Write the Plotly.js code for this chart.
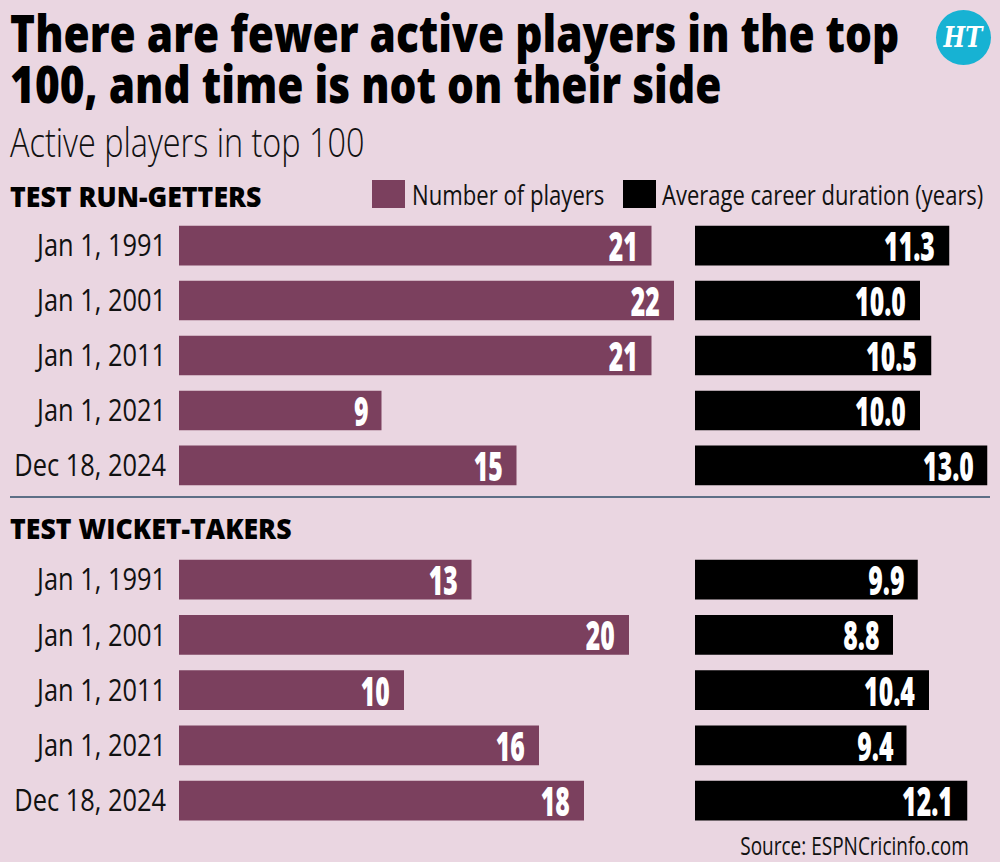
<!DOCTYPE html>
<html>
<head>
<meta charset="utf-8">
<script src="https://cdn.plot.ly/plotly-3.0.1.min.js"></script>
<style>
  html, body { margin: 0; padding: 0; background: #ead6e1; }
  #chart { width: 1000px; height: 862px; }
</style>
</head>
<body>
<div id="chart"></div>
<script>
// Snapshot dates
const dates = ["Jan 1, 1991", "Jan 1, 2001", "Jan 1, 2011", "Jan 1, 2021", "Dec 18, 2024"];

// Test run-getters: active players in top 100 and their average career length
const runPlayers = [21, 22, 21, 9, 15];
const runCareer = [11.3, 10.0, 10.5, 10.0, 13.0];

// Test wicket-takers
const wktPlayers = [13, 20, 10, 16, 18];
const wktCareer = [9.9, 8.8, 10.4, 9.4, 12.1];

const seriesNames = ["Number of players", "Average career duration (years)"];

const MAROON = "#7b405e";
const BLACK = "#000000";
const BG = "#ead6e1";
const FONT = '"Open Sans", "Noto Sans", sans-serif';
const H = 862;
const py = px => 1 - px / H;   // pixel row -> paper fraction

function barTrace(values, color, xa, ya, name) {
  return {
    type: "bar",
    orientation: "h",
    x: values,
    y: dates,
    xaxis: xa,
    yaxis: ya,
    name: name,
    marker: { color: color, line: { width: 0 } },
    hoverinfo: "x+y",
    showlegend: false
  };
}

const traces = [
  barTrace(runPlayers, MAROON, "x", "y", seriesNames[0]),
  barTrace(runCareer, BLACK, "x2", "y", seriesNames[1]),
  barTrace(wktPlayers, MAROON, "x3", "y2", seriesNames[0]),
  barTrace(wktCareer, BLACK, "x4", "y2", seriesNames[1])
];

// Each annotation carries a horizontal squeeze factor (condensed type look)
const annotations = [];
const squeeze = [];
function addAnn(ann, s) { annotations.push(ann); squeeze.push(s); }

// Value labels sit just inside the end of each bar
function addLabels(values, xref, yref, fmt) {
  values.forEach((v, i) => {
    addAnn({
      x: v, y: dates[i], xref: xref, yref: yref,
      text: fmt(v), showarrow: false,
      xanchor: "right", yanchor: "middle", xshift: -12,
      font: { family: FONT, size: 40, color: "#ffffff", weight: 800 }
    }, 0.62);
  });
}
addLabels(runPlayers, "x", "y", v => String(v));
addLabels(runCareer, "x2", "y", v => v.toFixed(1));
addLabels(wktPlayers, "x3", "y2", v => String(v));
addLabels(wktCareer, "x4", "y2", v => v.toFixed(1));

function paperText(text, x, yc, xanchor, font, s) {
  addAnn({ xref: "paper", yref: "paper", x: x, y: py(yc), xanchor: xanchor, yanchor: "middle",
           text: text, showarrow: false, font: font }, s);
}

// Headline, subtitle, section headers, legend text and source
paperText("There are fewer active players in the top", 0.008, 31.8, "left",
          { family: FONT, size: 52, color: "#000", weight: 800 }, 0.815);
paperText("100, and time is not on their side", 0.008, 82.8, "left",
          { family: FONT, size: 52, color: "#000", weight: 800 }, 0.815);
paperText("Active players in top 100", 0.008, 141.5, "left",
          { family: FONT, size: 40, color: "#111", weight: 300 }, 0.81);
paperText("TEST RUN-GETTERS", 0.008, 195.7, "left",
          { family: FONT, size: 29, color: "#000", weight: 800 }, 0.92);
paperText("TEST WICKET-TAKERS", 0.008, 527.7, "left",
          { family: FONT, size: 29, color: "#000", weight: 800 }, 0.92);
paperText(seriesNames[0], 0.410, 194, "left",
          { family: FONT, size: 28, color: "#111" }, 0.79);
paperText(seriesNames[1], 0.660, 194, "left",
          { family: FONT, size: 28, color: "#111" }, 0.785);
paperText("Source: ESPNCricinfo.com", 0.971, 845, "right",
          { family: FONT, size: 25, color: "#111" }, 0.76);
paperText("<i>HT</i>", 0.9635, 37, "center",
          { family: '"DejaVu Serif", serif', size: 27, color: "#ffffff", weight: 700 }, 0.85);

const shapes = [
  // legend swatches
  { type: "rect", xref: "paper", yref: "paper", x0: 0.372, x1: 0.405, y0: py(208), y1: py(180),
    fillcolor: MAROON, line: { width: 0 } },
  { type: "rect", xref: "paper", yref: "paper", x0: 0.623, x1: 0.656, y0: py(208), y1: py(180),
    fillcolor: BLACK, line: { width: 0 } },
  // section divider
  { type: "line", xref: "paper", yref: "paper", x0: 0.01, x1: 0.99, y0: py(497), y1: py(497),
    line: { color: "#5d6f86", width: 2 } },
  // masthead roundel
  { type: "circle", xref: "paper", yref: "paper", x0: 0.936, x1: 0.991, y0: py(65), y1: py(10),
    fillcolor: "#17b2d3", line: { width: 0 } }
];

const tickFont = { family: FONT, size: 31, color: "#111" };
const TICK_SQUEEZE = 0.82;

const layout = {
  width: 1000, height: H,
  margin: { l: 0, r: 0, t: 0, b: 0 },
  paper_bgcolor: BG, plot_bgcolor: BG,
  showlegend: false,
  bargap: 0.28,
  xaxis:  { domain: [0.179, 0.674], range: [0, 22], visible: false, fixedrange: true, anchor: "y" },
  xaxis2: { domain: [0.695, 0.9875], range: [0, 13], visible: false, fixedrange: true, anchor: "y" },
  xaxis3: { domain: [0.179, 0.674], range: [0, 22], visible: false, fixedrange: true, anchor: "y2" },
  xaxis4: { domain: [0.695, 0.9875], range: [0, 13], visible: false, fixedrange: true, anchor: "y2" },
  yaxis:  { domain: [0.4259, 0.7493], autorange: "reversed", anchor: "x", type: "category",
            showgrid: false, zeroline: false, showline: false, ticks: "", ticklabelstandoff: 12,
            tickfont: tickFont, fixedrange: true },
  yaxis2: { domain: [0.0371, 0.3619], autorange: "reversed", anchor: "x3", type: "category",
            showgrid: false, zeroline: false, showline: false, ticks: "", ticklabelstandoff: 12,
            tickfont: tickFont, fixedrange: true },
  annotations: annotations,
  shapes: shapes
};

// Narrow a text element horizontally, keeping the given edge fixed
function narrow(el, s, edge) {
  const bb = el.getBBox();
  const ax = edge === "right" ? bb.x + bb.width : edge === "left" ? bb.x : bb.x + bb.width / 2;
  const t = el.getAttribute("transform") || "";
  el.setAttribute("transform", t + " translate(" + ax + ",0) scale(" + s + ",1) translate(" + (-ax) + ",0)");
}

Plotly.newPlot("chart", traces, layout, { displayModeBar: false, staticPlot: true }).then(gd => {
  gd.querySelectorAll("g.annotation").forEach(g => {
    const i = +g.getAttribute("data-index");
    const txt = g.querySelector("text.annotation-text");
    if (txt && squeeze[i] != null) narrow(txt, squeeze[i], annotations[i].xanchor);
  });
  gd.querySelectorAll("g.ytick text, g.y2tick text").forEach(t => narrow(t, TICK_SQUEEZE, "right"));
});
</script>
</body>
</html>
